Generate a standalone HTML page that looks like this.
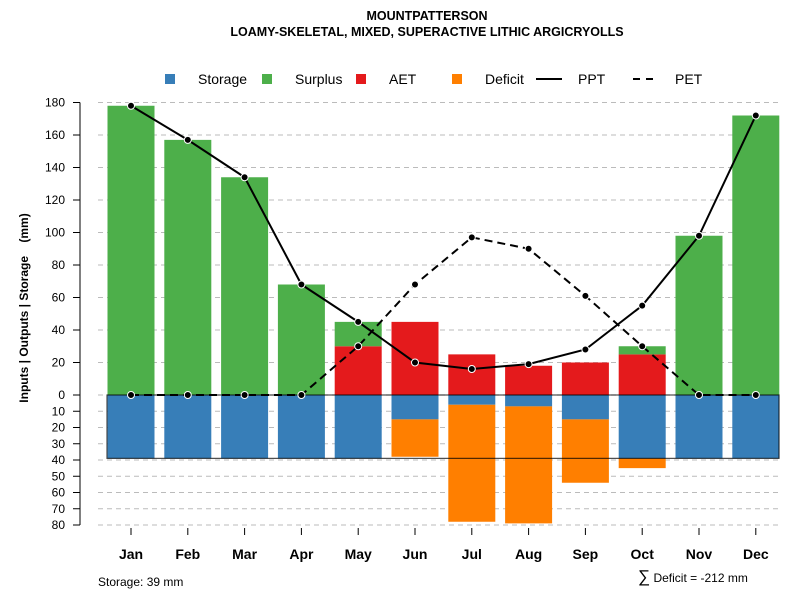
<!DOCTYPE html>
<html><head><meta charset="utf-8"><style>body{margin:0;background:#fff}svg{font-family:"Liberation Sans",sans-serif}</style></head>
<body>
<svg id="c" width="800" height="600" xmlns="http://www.w3.org/2000/svg"></svg>
<script>
const months=["Jan","Feb","Mar","Apr","May","Jun","Jul","Aug","Sep","Oct","Nov","Dec"];
const storage=[39,39,39,39,39,15,6,7,15,39,39,39];
const deficit=[0,0,0,0,0,23,72,72,39,6,0,0];
const aet=[0,0,0,0,30,45,25,18,20,25,0,0];
const surplus=[178,157,134,68,15,0,0,0,0,5,98,172];
const ppt=[178,157,134,68,45,20,16,19,28,55,98,172];
const pet=[0,0,0,0,30,68,97,90,61,30,0,0];
const upTicks=[0,20,40,60,80,100,120,140,160,180];
const downTicks=[10,20,30,40,50,60,70,80];
const capacity=39;
const NS="http://www.w3.org/2000/svg",svg=document.getElementById('c');
function el(t,a,txt){const e=document.createElementNS(NS,t);for(const k in a)e.setAttribute(k,a[k]);if(txt!==undefined)e.textContent=txt;svg.appendChild(e);return e;}
const y=v=>395-1.625*v;
const x=i=>131+i*56.8;
const bw=47;
let t=el('text',{x:427,y:20,'text-anchor':'middle','font-size':12.5,'font-weight':'bold'},'MOUNTPATTERSON');

t=el('text',{x:427,y:36,'text-anchor':'middle','font-size':12.5,'font-weight':'bold'},'LOAMY-SKELETAL, MIXED, SUPERACTIVE LITHIC ARGICRYOLLS');

[...upTicks,...downTicks.map(v=>-v)].forEach(v=>{const g=el('line',{x1:98,x2:780,y1:y(v),y2:y(v),stroke:'#bbb','stroke-dasharray':'5,4'});
});
months.forEach((m,i)=>{const x0=x(i)-bw/2;
 let r=el('rect',{x:x0,y:y(0),width:bw,height:1.625*storage[i],fill:'#377eb8'});
 if(deficit[i]>0){r=el('rect',{x:x0,y:y(-storage[i]),width:bw,height:1.625*deficit[i],fill:'#ff7f00'});}
 if(aet[i]>0){r=el('rect',{x:x0,y:y(aet[i]),width:bw,height:1.625*aet[i],fill:'#e41a1c'});}
 if(surplus[i]>0){r=el('rect',{x:x0,y:y(aet[i]+surplus[i]),width:bw,height:1.625*surplus[i],fill:'#4daf4a'});}
});
let b=el('rect',{x:107,y:y(0),width:672,height:1.625*capacity,fill:'none',stroke:'#000','stroke-opacity':0.7,'stroke-width':1.2});

let p=el('polyline',{points:ppt.map((v,i)=>x(i)+','+y(v)).join(' '),fill:'none',stroke:'#000','stroke-width':2});

p=el('polyline',{points:pet.map((v,i)=>x(i)+','+y(v)).join(' '),fill:'none',stroke:'#000','stroke-width':2,'stroke-dasharray':'8,5'});

[ppt,pet].forEach((s,k)=>s.forEach((v,i)=>{const c=el('circle',{cx:x(i),cy:y(v),r:3.5,fill:'#000',stroke:'#fff','stroke-width':1});
}));
let a=el('line',{x1:80,x2:80,y1:y(180),y2:y(-80),stroke:'#000'});
[...upTicks,...downTicks.map(v=>-v)].forEach(v=>{el('line',{x1:73,x2:80,y1:y(v),y2:y(v),stroke:'#000'});
const l=el('text',{x:65,y:y(v)+4,'text-anchor':'end','font-size':12},Math.abs(v));});
t=el('text',{transform:'translate(28,308) rotate(-90)','text-anchor':'middle','font-size':12,'font-weight':'bold'},'Inputs | Outputs | Storage\u00a0\u00a0\u00a0\u00a0(mm)');

months.forEach((m,i)=>{el('line',{x1:x(i),x2:x(i),y1:528,y2:535,stroke:'#000'});
const l=el('text',{x:x(i),y:559,'text-anchor':'middle','font-size':14,'font-weight':'bold'},m);});
const leg=[['Storage','#377eb8','sq'],['Surplus','#4daf4a','sq'],['AET','#e41a1c','sq'],['Deficit','#ff7f00','sq'],['PPT','','solid'],['PET','','dash']];
const lx=[165,262,356,452,540,637];
leg.forEach((d,i)=>{if(d[2]=='sq')el('rect',{x:lx[i],y:74,width:10,height:10,fill:d[1]});
else el('line',{x1:lx[i]-4,x2:lx[i]+22,y1:79,y2:79,stroke:'#000','stroke-width':2,'stroke-dasharray':d[2]=='dash'?'7,6':'none'});
const l=el('text',{x:lx[i]+(d[2]=='sq'?33:38),y:84,'font-size':14},d[0]);});
t=el('text',{x:98,y:586,'font-size':12},'Storage: 39 mm');
t=el('text',{x:638,y:582,'font-size':12});
const s1=document.createElementNS(NS,'tspan');s1.setAttribute('font-size',17);s1.textContent='∑';t.appendChild(s1);
const s2=document.createElementNS(NS,'tspan');s2.textContent=' Deficit = -212 mm';t.appendChild(s2);
</script>
</body></html>
